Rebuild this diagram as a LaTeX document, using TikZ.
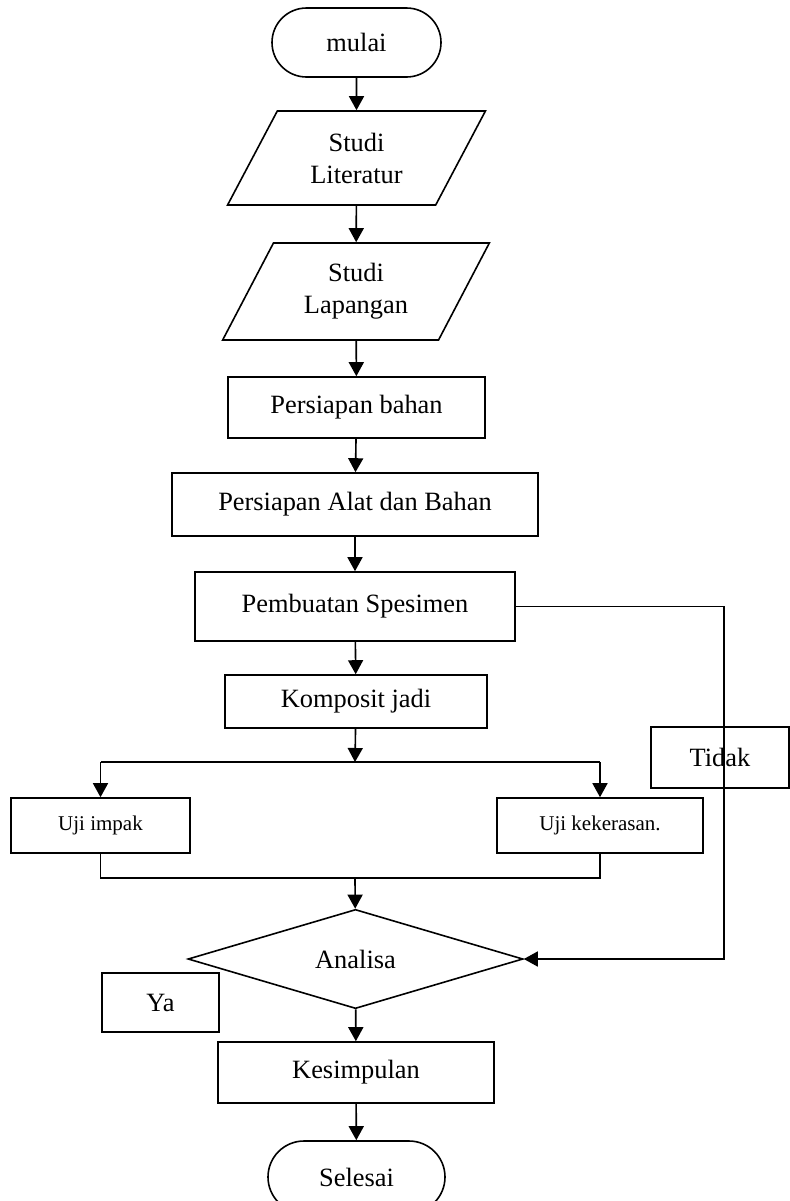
\documentclass[tikz,border=0pt]{standalone}
\usepackage{fontspec}
\setmainfont{Liberation Serif}
\usetikzlibrary{arrows.meta,shapes.geometric,shapes.misc}
\tikzset{
  flowline/.style={line width=0.8pt},
  flowarrow/.style={flowline,-{Triangle[length=7pt,width=7.5pt]}},
  basebox/.style={draw,line width=0.8pt,inner sep=1pt,align=center,
    font=\fontsize{13.2pt}{16pt}\selectfont},
  procbox/.style={basebox,rectangle},
  smallbox/.style={procbox,font=\fontsize{10.5pt}{13pt}\selectfont},
  terminal/.style={basebox,rounded rectangle},
  inputbox/.style={basebox,trapezium,trapezium stretches=true,
    trapezium left angle=61,trapezium right angle=119},
  decision/.style={basebox,diamond,inner sep=0pt}
}
\begin{document}
\begin{tikzpicture}[x=0.5pt,y=-0.5pt]
  \useasboundingbox (0,0) rectangle (790,1201);
  \node[terminal,minimum width=86.5pt,minimum height=34.5pt] (mulai) at (356.5,42.5) {mulai};
  \node[inputbox,minimum width=129.5pt,minimum height=47pt] (literatur) at (356.5,158) {Studi\\Literatur};
  \node[inputbox,minimum width=134pt,minimum height=48.5pt] (lapangan) at (356,291.5) {Studi\\Lapangan};
  \node[procbox,minimum width=128.5pt,minimum height=30.5pt] (bahan) at (356.5,407.5) {Persiapan bahan};
  \node[procbox,minimum width=183pt,minimum height=31.5pt] (alat) at (355,504.5) {Persiapan Alat dan Bahan};
  \node[procbox,minimum width=160pt,minimum height=34.5pt] (spesimen) at (355,606.5) {Pembuatan Spesimen};
  \node[procbox,minimum width=131pt,minimum height=26.5pt] (komposit) at (356,701.5) {Komposit jadi};
  \node[smallbox,minimum width=89.5pt,minimum height=27.5pt] (impak) at (100.5,825.5) {Uji impak};
  \node[smallbox,minimum width=103pt,minimum height=27.5pt] (keras) at (600,825.5) {Uji kekerasan.};
  \node[procbox,minimum width=69pt,minimum height=30.5pt] (tidak) at (720,757.5) {Tidak};
  \node[decision,minimum width=167.5pt,minimum height=47pt] (analisa) at (355.5,959) {Analisa};
  \node[procbox,minimum width=58.5pt,minimum height=29.5pt] (ya) at (160.5,1002.5) {Ya};
  \node[procbox,minimum width=138pt,minimum height=30.5pt] (kesimpulan) at (356,1072.5) {Kesimpulan};
  \node[terminal,minimum width=90.5pt,minimum height=36pt] (selesai) at (356.5,1177) {Selesai};

  \coordinate (split) at (355,762);
  \coordinate (join) at (355,878);
  \coordinate (loop) at (724,606.5);

  \draw[flowarrow] (mulai) -- (literatur);
  \draw[flowarrow] (literatur) -- (lapangan);
  \draw[flowarrow] (lapangan) -- (bahan);
  \draw[flowarrow] (bahan) -- (alat);
  \draw[flowarrow] (alat) -- (spesimen);
  \draw[flowarrow] (spesimen) -- (komposit);
  \draw[flowarrow] (komposit) -- (split);
  \draw[flowline] (split -| impak) -- (split -| keras);
  \draw[flowarrow] (split -| impak) -- (impak);
  \draw[flowarrow] (split -| keras) -- (keras);
  \draw[flowline] (impak) |- (join) -| (keras);
  \draw[flowarrow] (join) -- (analisa);
  \draw[flowarrow] (spesimen.east) -- (loop) |- (analisa.east);
  \draw[flowarrow] (analisa) -- (kesimpulan);
  \draw[flowarrow] (kesimpulan) -- (selesai);
\end{tikzpicture}
\end{document}
